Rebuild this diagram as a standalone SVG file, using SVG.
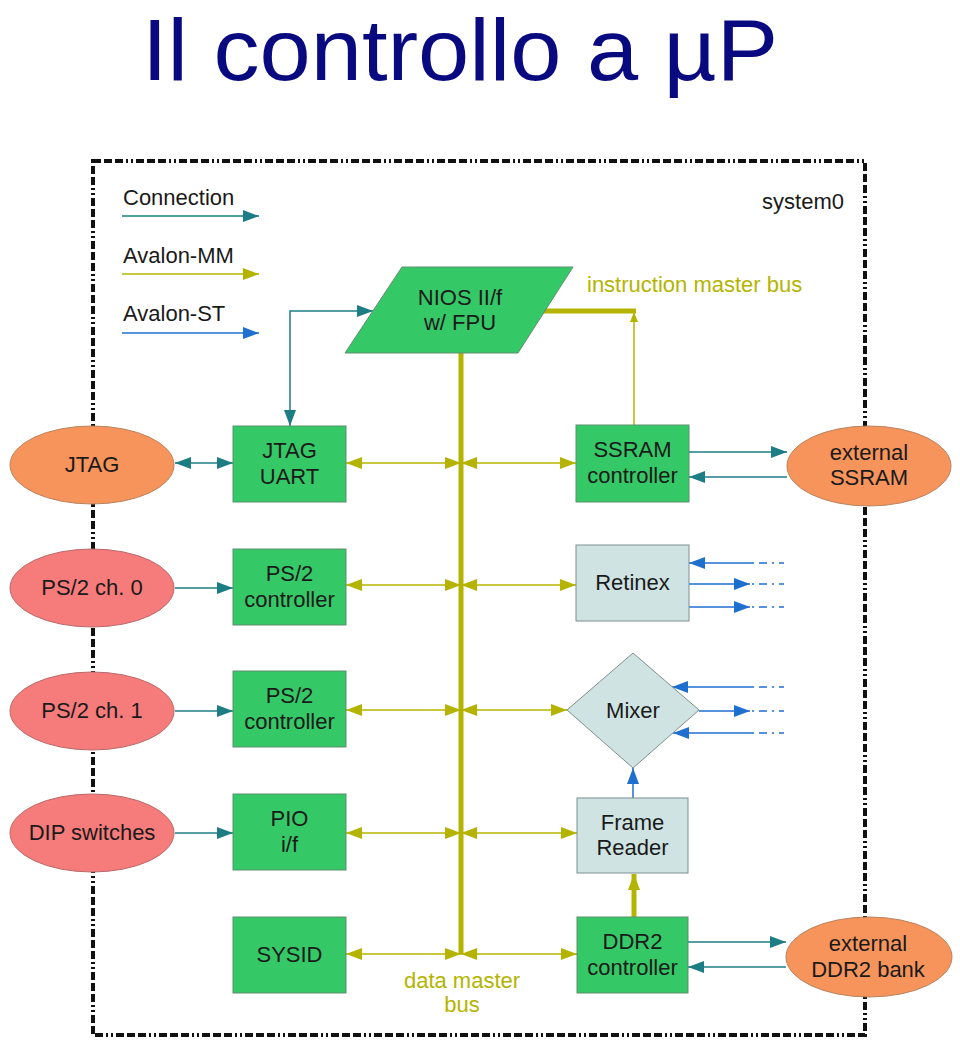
<svg xmlns="http://www.w3.org/2000/svg" width="960" height="1045" viewBox="0 0 960 1045">
<style>
text{font-family:"Liberation Sans",Arial,sans-serif;font-size:22px;fill:#1a1a1a}
.t{text-anchor:middle}
.title{font-size:88px;fill:#0a0a80}
.ol{fill:#b4b400}
.g{fill:#35c867;stroke:#5f8f6f;stroke-width:1}
.lb{fill:#cfe3e3;stroke:#7f8f8f;stroke-width:1}
.or{fill:#f7945c;stroke:#b8835f;stroke-width:1}
.pk{fill:#f67b7b;stroke:#b86a6a;stroke-width:1}
.tl{stroke:#1c7d84;stroke-width:1.5;fill:none}
.ml{stroke:#b4b400;stroke-width:1.5;fill:none}
.bus{stroke:#b4b400;stroke-width:5;fill:none}
.sl{stroke:#1f6fd0;stroke-width:1.5;fill:none}
.dd{stroke-dasharray:2 5 8 5}
.frame{fill:none;stroke:#111;stroke-width:4;stroke-dasharray:8 3 8 3 8 3 2 3 2 3}
</style>
<defs>
<marker id="at" markerUnits="userSpaceOnUse" viewBox="0 0 16 12" markerWidth="16" markerHeight="12" refX="16" refY="6" orient="auto-start-reverse"><path d="M0,0 L16,6 L0,12 z" fill="#1c7d84"/></marker>
<marker id="am" markerUnits="userSpaceOnUse" viewBox="0 0 16 12" markerWidth="16" markerHeight="12" refX="16" refY="6" orient="auto-start-reverse"><path d="M0,0 L16,6 L0,12 z" fill="#b4b400"/></marker>
<marker id="as" markerUnits="userSpaceOnUse" viewBox="0 0 16 12" markerWidth="16" markerHeight="12" refX="16" refY="6" orient="auto-start-reverse"><path d="M0,0 L16,6 L0,12 z" fill="#1f6fd0"/></marker>
<marker id="ams" markerUnits="userSpaceOnUse" viewBox="0 0 10 8" markerWidth="10" markerHeight="8" refX="10" refY="4" orient="auto"><path d="M0,0 L10,4 L0,8 z" fill="#b4b400"/></marker>
</defs>
<rect width="960" height="1045" fill="#fff"/>
<text class="title" x="142" y="80" textLength="636" lengthAdjust="spacingAndGlyphs">Il controllo a µP</text>
<rect id="system0" class="frame" x="93" y="161" width="772" height="874"/>
<text x="844" y="209" text-anchor="end">system0</text>
<g id="legend">
<text x="123" y="205">Connection</text>
<line class="tl" x1="122" y1="216" x2="259" y2="216" marker-end="url(#at)"/>
<text x="123" y="263">Avalon-MM</text>
<line class="ml" x1="122" y1="274" x2="259" y2="274" marker-end="url(#am)"/>
<text x="123" y="321">Avalon-ST</text>
<line class="sl" x1="122" y1="333" x2="259" y2="333" marker-end="url(#as)"/>
</g>
<g id="connectors">
<line class="bus" x1="461" y1="353" x2="461" y2="954"/>
<path class="bus" d="M541,311 H636" stroke-width="4"/>
<path class="ml" d="M634,425 V312" marker-end="url(#ams)"/>
<text class="ol" x="587" y="292">instruction master bus</text>
<text class="ol t" x="462" y="988">data master</text>
<text class="ol t" x="462" y="1012">bus</text>
<line class="ml" x1="346" y1="463" x2="461" y2="463" marker-start="url(#am)" marker-end="url(#am)"/>
<line class="ml" x1="461" y1="463" x2="576" y2="463" marker-start="url(#am)" marker-end="url(#am)"/>
<line class="ml" x1="346" y1="585" x2="461" y2="585" marker-start="url(#am)" marker-end="url(#am)"/>
<line class="ml" x1="461" y1="585" x2="576" y2="585" marker-start="url(#am)" marker-end="url(#am)"/>
<line class="ml" x1="346" y1="710" x2="461" y2="710" marker-start="url(#am)" marker-end="url(#am)"/>
<line class="ml" x1="461" y1="710" x2="567" y2="710" marker-start="url(#am)" marker-end="url(#am)"/>
<line class="ml" x1="346" y1="833" x2="461" y2="833" marker-start="url(#am)" marker-end="url(#am)"/>
<line class="ml" x1="461" y1="833" x2="577" y2="833" marker-start="url(#am)" marker-end="url(#am)"/>
<line class="ml" x1="346" y1="954" x2="461" y2="954" marker-start="url(#am)" marker-end="url(#am)"/>
<line class="ml" x1="461" y1="954" x2="577" y2="954" marker-start="url(#am)" marker-end="url(#am)"/>
<path class="tl" d="M290,426 V311 H373" marker-start="url(#at)" marker-end="url(#at)"/>
<line class="tl" x1="175" y1="463" x2="233" y2="463" marker-start="url(#at)" marker-end="url(#at)"/>
<line class="tl" x1="175" y1="588" x2="233" y2="588" marker-end="url(#at)"/>
<line class="tl" x1="175" y1="711" x2="233" y2="711" marker-end="url(#at)"/>
<line class="tl" x1="175" y1="833" x2="233" y2="833" marker-end="url(#at)"/>
<line class="tl" x1="689" y1="452" x2="787" y2="452" marker-end="url(#at)"/>
<line class="tl" x1="787" y1="477" x2="689" y2="477" marker-end="url(#at)"/>
<line class="tl" x1="688" y1="942" x2="786" y2="942" marker-end="url(#at)"/>
<line class="tl" x1="786" y1="967" x2="688" y2="967" marker-end="url(#at)"/>
<line class="bus" x1="634" y1="917" x2="634" y2="874" stroke-width="4" marker-end="url(#am)"/>
<line class="sl" x1="633" y1="798" x2="633" y2="768" marker-end="url(#as)"/>
<line class="sl" x1="752" y1="563" x2="689" y2="563" marker-end="url(#as)"/>
<line class="sl" x1="689" y1="584" x2="750" y2="584" marker-end="url(#as)"/>
<line class="sl" x1="689" y1="607" x2="750" y2="607" marker-end="url(#as)"/>
<line class="sl" x1="752" y1="687" x2="672" y2="687" marker-end="url(#as)"/>
<line class="sl" x1="699" y1="711" x2="750" y2="711" marker-end="url(#as)"/>
<line class="sl" x1="752" y1="733" x2="673" y2="733" marker-end="url(#as)"/>
<path class="sl dd" d="M752,563 H784 M752,584 H784 M752,607 H784 M752,687 H784 M752,711 H784 M752,733 H784" stroke-width="1"/>
</g>
<g id="nios"><polygon class="g" points="402,267 573,267 518,353 345,353"/><text class="t" x="460" y="305">NIOS II/f</text><text class="t" x="460" y="330">w/ FPU</text></g>
<g id="jtag"><ellipse class="or" cx="92" cy="465" rx="82" ry="39"/><text class="t" x="92" y="472">JTAG</text></g>
<g id="ps2ch0"><ellipse class="pk" cx="92" cy="588" rx="82" ry="39"/><text class="t" x="92" y="595">PS/2 ch. 0</text></g>
<g id="ps2ch1"><ellipse class="pk" cx="92" cy="711" rx="82" ry="39"/><text class="t" x="92" y="718">PS/2 ch. 1</text></g>
<g id="dip"><ellipse class="pk" cx="92" cy="833" rx="82" ry="39"/><text class="t" x="92" y="840">DIP switches</text></g>
<g id="jtaguart"><rect class="g" x="233" y="426" width="113" height="76"/><text class="t" x="289.5" y="458">JTAG</text><text class="t" x="289.5" y="484">UART</text></g>
<g id="ps2ctrl0"><rect class="g" x="233" y="549" width="113" height="76"/><text class="t" x="289.5" y="581">PS/2</text><text class="t" x="289.5" y="607">controller</text></g>
<g id="ps2ctrl1"><rect class="g" x="233" y="671" width="113" height="76"/><text class="t" x="289.5" y="703">PS/2</text><text class="t" x="289.5" y="729">controller</text></g>
<g id="pio"><rect class="g" x="233" y="794" width="113" height="76"/><text class="t" x="289.5" y="826">PIO</text><text class="t" x="289.5" y="852">i/f</text></g>
<g id="sysid"><rect class="g" x="233" y="917" width="113" height="76"/><text class="t" x="289.5" y="962">SYSID</text></g>
<g id="ssramctrl"><rect class="g" x="576" y="425" width="113" height="77"/><text class="t" x="632.5" y="457">SSRAM</text><text class="t" x="632.5" y="483">controller</text></g>
<g id="retinex"><rect class="lb" x="576" y="545" width="113" height="76"/><text class="t" x="632.5" y="590">Retinex</text></g>
<g id="mixer"><polygon class="lb" points="633,653 699,710 633,768 567,710"/><text class="t" x="633" y="718">Mixer</text></g>
<g id="framereader"><rect class="lb" x="577" y="798" width="111" height="75"/><text class="t" x="632.5" y="830">Frame</text><text class="t" x="632.5" y="855">Reader</text></g>
<g id="ddr2ctrl"><rect class="g" x="577" y="917" width="111" height="76"/><text class="t" x="632.5" y="949">DDR2</text><text class="t" x="632.5" y="975">controller</text></g>
<g id="extssram"><ellipse class="or" cx="869" cy="466" rx="82" ry="40"/><text class="t" x="869" y="460">external</text><text class="t" x="869" y="485">SSRAM</text></g>
<g id="extddr2"><ellipse class="or" cx="869" cy="957" rx="83" ry="40"/><text class="t" x="868" y="951">external</text><text class="t" x="868" y="977">DDR2 bank</text></g>
</svg>
